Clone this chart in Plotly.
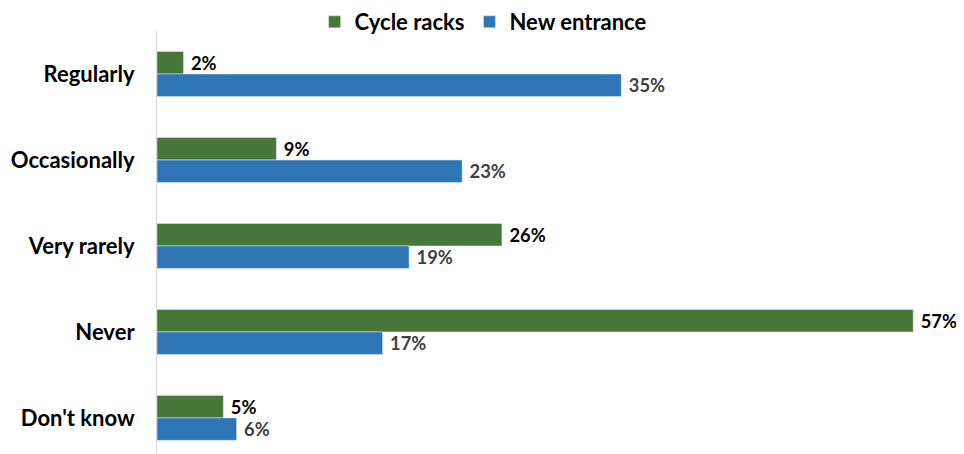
import plotly.graph_objects as go

categories = ["Regularly", "Occasionally", "Very rarely", "Never", "Don't know"]
cycle_racks = [2, 9, 26, 57, 5]
new_entrance = [35, 23, 19, 17, 6]
series_names = ["Cycle racks", "New entrance"]

FONT = "Lato"
GREEN = "#477639"
BLUE = "#2E75B6"
FS = 22

fig = go.Figure()
fig.add_trace(go.Bar(
    y=categories, x=cycle_racks, name=series_names[0], orientation="h",
    marker=dict(color=GREEN),
    text=[f" {v}%" for v in cycle_racks], textposition="outside",
    textfont=dict(family=FONT, size=FS, color="#000000", weight="bold"),
    cliponaxis=False,
))
fig.add_trace(go.Bar(
    y=categories, x=new_entrance, name=series_names[1], orientation="h",
    marker=dict(color=BLUE),
    text=[f" {v}%" for v in new_entrance], textposition="outside",
    textfont=dict(family=FONT, size=FS, color="#404040", weight="bold"),
    cliponaxis=False,
))

fig.update_layout(
    width=964, height=454,
    margin=dict(l=149, r=19, t=23, b=8, autoexpand=False),
    paper_bgcolor="white", plot_bgcolor="white",
    barmode="group", bargap=0.477, bargroupgap=0,
    font=dict(family=FONT, size=FS, color="#000000", weight="bold"),
    legend=dict(orientation="h", x=0.198, xanchor="left", y=1.0213, yanchor="middle",
                font=dict(family=FONT, size=FS, color="#000000", weight="bold"),
                traceorder="normal", itemwidth=30, borderwidth=0),
    showlegend=True,
    hovermode=False,
)
fig.update_xaxes(range=[0, 60], visible=False, showgrid=False, zeroline=False)
fig.update_yaxes(
    type="category", range=[4.42, -0.5], automargin=False,
    showline=True, linecolor="#D9D9D9", linewidth=1,
    showgrid=False, zeroline=False, ticks="",
    ticklabelstandoff=17,
    tickfont=dict(family=FONT, size=FS, color="#000000", weight="bold"),
)

fig.write_html("out.html")
